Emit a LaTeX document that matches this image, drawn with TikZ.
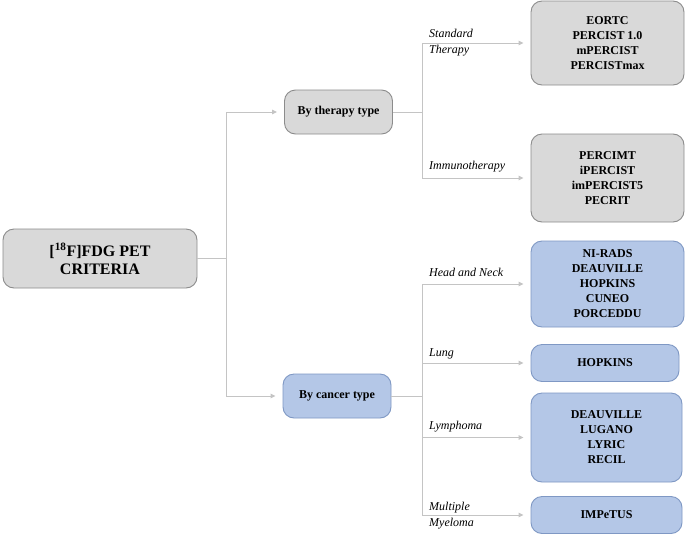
\documentclass[tikz,border=0pt]{standalone}
\usepackage{fontspec}
\setmainfont{Liberation Serif}
\usetikzlibrary{arrows.meta}
\definecolor{gfill}{HTML}{D9D9D9}
\definecolor{gdraw}{HTML}{8C8C8C}
\definecolor{bfill}{HTML}{B4C7E7}
\definecolor{bdraw}{HTML}{7F98C4}
\definecolor{lcol}{HTML}{C4C4C4}
\begin{document}
\begin{tikzpicture}[x=1pt,y=-1pt,
  box/.style={draw, rounded corners=11pt, line width=0.9pt, align=center, inner sep=0pt,
    font=\fontsize{12}{15}\selectfont\bfseries},
  graybox/.style={box, fill=gfill, draw=gdraw},
  bluebox/.style={box, fill=bfill, draw=bdraw},
  conn/.style={draw=lcol, line width=0.9pt},
  arr/.style={conn, -{Triangle[length=5pt,width=4.5pt]}, shorten >=7pt},
  lab/.style={font=\fontsize{12}{16}\selectfont\itshape, inner sep=0pt, align=left}]
\useasboundingbox (0,0) rectangle (685,536);
\fill[white] (0,0) rectangle (685,536);

\node[graybox, minimum width=194pt, minimum height=59pt, font=\fontsize{16}{18}\selectfont\bfseries]
  (root) at (100,258.5) {[\textsuperscript{18}F]FDG PET\\CRITERIA};
\node[graybox, minimum width=108pt, minimum height=44pt] (therapy) at (338.5,112) {By therapy type};
\node[bluebox, minimum width=108pt, minimum height=44pt] (cancer) at (337,396) {By cancer type};

\node[graybox, minimum width=153pt, minimum height=84pt] (std) at (607.5,43) {EORTC\\PERCIST 1.0\\mPERCIST\\PERCISTmax};
\node[graybox, minimum width=153pt, minimum height=88pt] (imm) at (607.5,178) {PERCIMT\\iPERCIST\\imPERCIST5\\PECRIT};
\node[bluebox, minimum width=153pt, minimum height=86pt] (head) at (607.5,284) {NI-RADS\\DEAUVILLE\\HOPKINS\\CUNEO\\PORCEDDU};
\node[bluebox, minimum width=148pt, minimum height=37pt] (lung) at (605,363) {HOPKINS};
\node[bluebox, minimum width=151pt, minimum height=89pt] (lymph) at (606.5,437.5) {DEAUVILLE\\LUGANO\\LYRIC\\RECIL};
\node[bluebox, minimum width=151pt, minimum height=37pt] (myel) at (606.5,515) {IMPeTUS};

\coordinate (j0) at (226,259);
\coordinate (jx) at (422,0);
\coordinate (arrend) at (531,0);

% root to branches
\draw[conn] (root.east) -- (root.east -| j0);
\draw[conn] (j0 |- therapy) -- (j0 |- cancer);
\draw[arr] (j0 |- therapy) -- (therapy.west);
\draw[arr] (j0 |- cancer) -- (cancer.west);

% therapy branch
\draw[conn] (therapy.east) -- (therapy.east -| jx);
\draw[conn] (jx |- std) -- (jx |- imm);
\draw[arr] (jx |- std) -- (std.west);
\draw[arr] (jx |- imm) -- (imm.west);

% cancer branch
\draw[conn] (cancer.east) -- (cancer.east -| jx);
\draw[conn] (jx |- head) -- (jx |- myel);
\draw[arr] (jx |- head) -- (head.west);
\draw[arr] (jx |- lung) -- (lung.west);
\draw[arr] (jx |- lymph) -- (lymph.west);
\draw[arr] (jx |- myel) -- (myel.west);

% labels
\node[lab, anchor=west] (lstd) at (429,43) {Standard\\Therapy};
\node[lab, anchor=base west] (limm) at (429,169) {Immunotherapy};
\node[lab, anchor=base west] (lhead) at (429,276) {Head and Neck};
\node[lab, anchor=base west] (llung) at (429,356) {Lung};
\node[lab, anchor=base west] (llym) at (429,429) {Lymphoma};
\node[lab, anchor=west] (lmyel) at (429,516) {Multiple\\Myeloma};
\end{tikzpicture}
\end{document}
